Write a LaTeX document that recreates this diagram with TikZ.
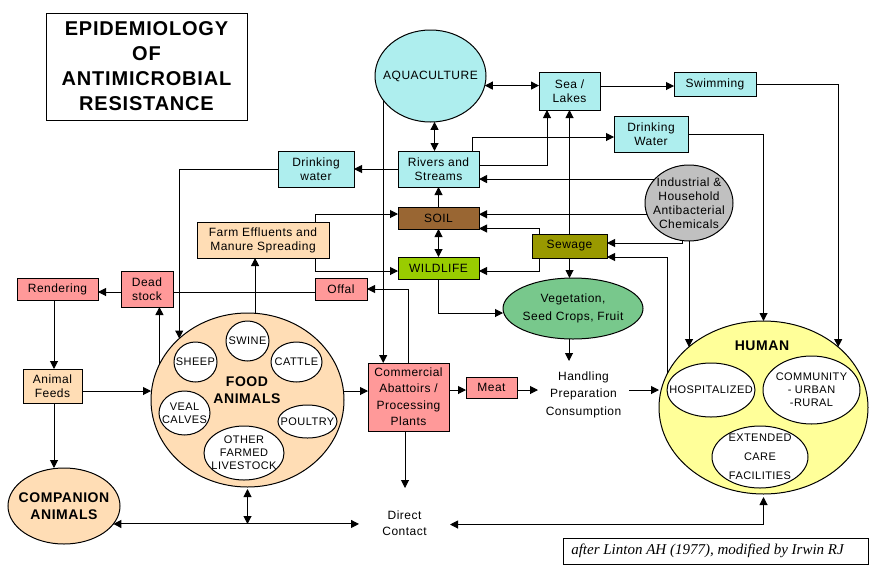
\documentclass[tikz,border=0pt]{standalone}
\usepackage{fontspec}
\setmainfont{Liberation Sans}[LetterSpace = 4]
\newfontfamily\creditfont{Liberation Serif}
\usetikzlibrary{arrows.meta, shapes.geometric}
\definecolor{waterblue}{HTML}{AEEEEE}
\definecolor{peach}{HTML}{FFDDB5}
\definecolor{rose}{HTML}{FF9999}
\definecolor{soilbrown}{HTML}{996633}
\definecolor{leafgreen}{HTML}{99CC00}
\definecolor{sewageolive}{HTML}{999900}
\definecolor{cropgreen}{HTML}{78C88C}
\definecolor{chemgray}{HTML}{C0C0C0}
\definecolor{humanyellow}{HTML}{FFFF99}
\newcommand{\bigbold}{\fontsize{14}{17}\selectfont\bfseries}
\newcommand{\innercaps}{\fontsize{11}{13}\selectfont}
\begin{document}
\begin{tikzpicture}[x = 1pt, y = -1pt, line width = 1pt, >={Triangle[length = 8pt, width = 8pt]},
		every node/.style = {inner sep = 0, outer sep = 0, align = center, font = \fontsize{12}{14}\selectfont},
		sized/.style 2 args = {minimum width = #1, minimum height = #2},
		box/.style = {rectangle, draw},
		blob/.style = {ellipse, draw}]
		\useasboundingbox (0, 0) rectangle (872, 568);
		% title and credit
		\node[box, sized = {201}{107}, font = \fontsize{20}{25}\selectfont\bfseries] (title) at (146.5, 66.5) {EPIDEMIOLOGY\\OF\\ANTIMICROBIAL\\RESISTANCE};
		\node[box, sized = {305}{26}, font = \fontsize{15}{16}\creditfont\itshape] (credit) at (715.5, 551) {after Linton AH (1977), modified by Irwin RJ\hspace*{16pt}};
		% water
		\node[blob, sized = {111}{92}, fill = waterblue, label = {center:AQUACULTURE}] (aqua) at (430.5, 76) {};
		\foreach \name/\cx/\cy/\w/\h/\txt in {
			sea/569.5/91/61/38/{Sea /\\Lakes},
			swim/715/84/82/24/{Swimming},
			drinkright/651/134/74/36/{Drinking\\Water},
			rivers/438.5/169/81/36/{Rivers and\\Streams},
			drinkleft/316/169/76/36/{Drinking\\water}}
			\node[box, sized = {\w}{\h}, fill = waterblue] (\name) at (\cx, \cy) {\txt};
		% environment
		\node[box, sized = {81}{22}, fill = soilbrown] (soil) at (438.5, 218) {SOIL};
		\node[box, sized = {81}{22}, fill = leafgreen] (wildlife) at (438.5, 268) {WILDLIFE};
		\node[box, sized = {75}{24}, fill = sewageolive] (sewage) at (569.5, 246) {Sewage};
		\node[blob, sized = {88}{76}, fill = chemgray, label = {center:Industrial \&\\Household\\Antibacterial\\Chemicals}] (chem) at (689, 203) {};
		\node[blob, sized = {140}{61}, fill = cropgreen, label = {center:Vegetation,\\[4pt]Seed Crops, Fruit}] (crops) at (573, 308.5) {};
		% farm side
		\node[box, sized = {132}{36}, fill = peach] (farm) at (263, 240) {Farm Effluents and\\Manure Spreading};
		\node[box, sized = {59}{34}, fill = peach] (feeds) at (52.5, 386) {Animal\\Feeds};
		\foreach \name/\cx/\cy/\w/\h/\txt in {
			dead/147/289/52/36/{Dead\\stock},
			render/57.5/289/81/22/{Rendering},
			offal/341/289/52/22/{Offal},
			meat/491.5/387.5/51/21/{Meat},
			abattoir/408.5/397/81/68/{Commercial\\[2pt]Abattoirs /\\[3pt]Processing\\[2pt]Plants}}
			\node[box, sized = {\w}{\h}, fill = rose] (\name) at (\cx, \cy) {\txt};
		\node[blob, sized = {112}{76}, fill = peach, label = {[font = \bigbold]center:COMPANION\\ANIMALS}] (companion) at (64, 506) {};
		% food animals
		\node[blob, sized = {193}{174}, fill = peach] (food) at (247.5, 400) {};
		\node[font = \bigbold] (foodtext) at (247, 390) {FOOD\\ANIMALS};
		\foreach \name/\cx/\cy/\w/\h/\txt in {
			swine/247.5/341/43/40/{SWINE},
			sheep/195.5/362/43/40/{SHEEP},
			cattle/296.5/362/51/40/{CATTLE},
			veal/184.5/413/51/44/{VEAL\\CALVES},
			poultry/307.5/421.5/59/33/{POULTRY},
			other/244/453/80/54/{OTHER\\FARMED\\LIVESTOCK}}
			\node[blob, sized = {\w}{\h}, fill = white, label = {[font = \innercaps]center:\txt}] (\name) at (\cx, \cy) {};
		% human
		\node[blob, sized = {209}{173}, fill = humanyellow] (human) at (763.5, 407.5) {};
		\node[font = \bigbold] (humantext) at (762, 346) {HUMAN};
		\foreach \name/\cx/\cy/\w/\h/\txt in {
			hospital/711/390/88/54/{HOSPITALIZED},
			community/811.5/390/97/68/{COMMUNITY\\- URBAN\\-RURAL},
			extended/760/457/96/62/{EXTENDED\\[6pt]CARE\\[6pt]FACILITIES}}
			\node[blob, sized = {\w}{\h}, fill = white, label = {[font = \innercaps]center:\txt}] (\name) at (\cx, \cy) {};
		% free text
		\node[sized = {91}{68}] (handling) at (583.5, 395) {Handling\\[3pt]Preparation\\[4pt]Consumption};
		\node[sized = {91}{70}] (direct) at (404.5, 523) {Direct\\[2pt]Contact};
		\coordinate (bus) at (247.5, 524);
		% water connectors
		\draw[<->] (aqua.-10) -- (sea.west |- aqua.-10);
		\draw[<->] (aqua.-85) -- (aqua.-85 |- rivers.north);
		\draw[->] (aqua.-153) -- (aqua.-153 |- abattoir.north);
		\draw[->] (sea.east |- 0, 86) -- (swim.west |- 0, 86);
		\draw[->] (swim.east) -| (human.39);
		\draw[->] (drinkright.east) -| (human.north);
		\draw[->] (rivers.east |- 0, 165) -| (547, 0 |- sea.south);
		\draw[->] (472, 0 |- rivers.north) |- (drinkright.west |- 0, 137);
		\draw[->] (rivers.west) -- (drinkleft.east);
		\draw[->] (drinkleft.west) -| (food.138);
		% environment connectors
		\draw[->] (soil.north) -- (rivers.south);
		\draw[<->] (soil.south) -- (wildlife.north);
		\draw[->] (chem.145) -- (rivers.east |- chem.145);
		\draw[->] (chem.-165) -- (soil.east |- chem.-165);
		\draw[->] (chem.-100) |- (sewage.east |- 0, 243);
		\draw[->] (chem.south) -- (chem.south |- human.141);
		\draw[->] (human.161) |- (sewage.east |- 0, 257);
		\draw[->] (sewage.north) -- (sewage.north |- sea.south);
		\draw[->] (sewage.south) -- (sewage.south |- crops.north);
		\draw[->] (539, 0 |- sewage.north) |- (soil.east |- 0, 228.5);
		\draw[->] (539, 0 |- sewage.south) |- (wildlife.east |- 0, 271);
		\draw[->] (wildlife.south) |- (crops.west |- 0, 313);
		\draw[->] (315, 0 |- farm.north) |- (soil.west |- 0, 214);
		\draw[->] (315, 0 |- farm.south) |- (wildlife.west |- 0, 271);
		% farm connectors
		\draw[->] (food.85) -- (food.85 |- farm.south);
		\draw (offal.west |- 0, 292) -- (dead.east |- 0, 292);
		\draw[->] (dead.west |- 0, 292) -- (render.east |- 0, 292);
		\draw[->] (food.158.6) -- (food.158.6 |- dead.south);
		\draw[->] (54, 0 |- render.south) -- (54, 0 |- feeds.north);
		\draw[->] (54, 0 |- feeds.south) -- (54, 0 |- companion.north);
		\draw[->] (feeds.east |- 0, 391) -- (food.west |- 0, 391);
		\draw[->] (food.east |- 0, 391) -- (abattoir.west |- 0, 391);
		\draw[->] (abattoir.north) |- (offal.east);
		\draw[->] (405, 0 |- abattoir.south) -- (405, 0 |- direct.north);
		\draw[->] (abattoir.east |- 0, 390) -- (meat.west |- 0, 390);
		\draw[->] (meat.east |- 0, 390) -- (handling.west |- 0, 390);
		\draw[->] (handling.east |- 0, 390) -- (human.west |- 0, 390);
		\draw[->] (569, 0 |- crops.south) -- (569, 0 |- handling.north);
		% direct contact
		\draw[<->] (companion.-20) -- (direct.west |- companion.-20);
		\draw[<->, shorten < = 2pt] (food.south) -- (bus);
		\draw[<->, shorten > = 3pt] (direct.east |- 0, 524.5) -| (human.south);
	\end{tikzpicture}
\end{document}
